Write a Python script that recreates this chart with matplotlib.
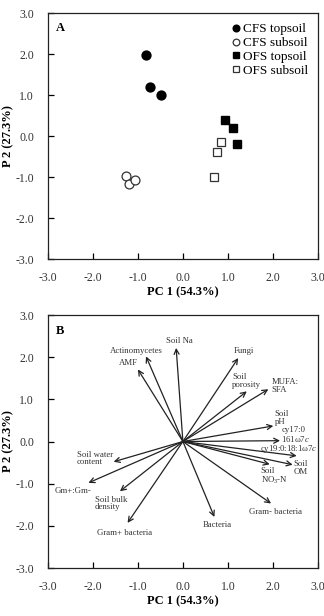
import matplotlib
matplotlib.use("Agg")
import matplotlib.pyplot as plt

plt.rcParams['font.family'] = ['Liberation Serif', 'DejaVu Serif']
plt.rcParams['mathtext.fontset'] = 'custom'
plt.rcParams['mathtext.rm'] = 'Liberation Serif'
plt.rcParams['mathtext.it'] = 'Liberation Serif:italic'

# Panel A: PCA scores
cfs_top_x = [-0.83, -0.73, -0.49]
cfs_top_y = [1.97, 1.21, 1.00]
cfs_sub_x = [-1.27, -1.19, -1.06]
cfs_sub_y = [-0.98, -1.16, -1.07]
ofs_top_x = [0.94, 1.11, 1.21]
ofs_top_y = [0.39, 0.19, -0.18]
ofs_sub_x = [0.84, 0.75, 0.70]
ofs_sub_y = [-0.15, -0.39, -0.99]

# Panel B: loading vectors (tip x, tip y)
var_names = ["Soil Na", "Actinomycetes", "AMF", "Fungi", "Soil porosity", "MUFA:SFA",
             "Soil pH", "cy17:0 161w7c", "cy19:0:18:1w7c", "Soil OM", "Soil NO3-N",
             "Gram- bacteria", "Bacteria", "Gram+ bacteria", "Soil bulk density",
             "Gm+:Gm-", "Soil water content"]
load_x = [-0.15, -0.82, -1.00, 1.23, 1.42, 1.90, 2.01, 2.16, 2.53, 2.44, 1.93,
          1.96, 0.70, -1.23, -1.40, -2.10, -1.54]
load_y = [2.22, 2.02, 1.71, 1.98, 1.19, 1.24, 0.37, 0.02, -0.34, -0.55, -0.54,
          -1.47, -1.79, -1.93, -1.18, -0.98, -0.48]
# label text, label x, label y, horizontal alignment
label_text = ["Soil Na", "Actinomycetes", "AMF", "Fungi", "Soil\nporosity", "MUFA:\nSFA",
              "Soil\npH", "cy17:0\n161ω7$\\it{c}$", "cy19:0:18:1ω7$\\it{c}$", "Soil\nOM",
              "Soil\nNO$_3$-N", "Gram- bacteria", "Bacteria", "Gram+ bacteria",
              "Soil bulk\ndensity", "Gm+:Gm-", "Soil water\ncontent"]
label_x = [-0.07, -1.03, -1.22, 1.36, 1.10, 1.97, 2.04, 2.19, 2.35, 2.62, 1.73,
           2.06, 0.76, -1.30, -1.96, -2.44, -2.36]
label_y = [2.38, 2.15, 1.87, 2.15, 1.43, 1.32, 0.56, 0.16, -0.18, -0.63, -0.83,
           -1.67, -1.98, -2.17, -1.47, -1.17, -0.40]
label_ha = ["center", "center", "center", "center", "left", "left", "left", "left",
            "center", "center", "left", "center", "center", "center", "left", "center", "left"]

ticks = [-3.0, -2.0, -1.0, 0.0, 1.0, 2.0, 3.0]
tick_labels = ["-3.0", "-2.0", "-1.0", "0.0", "1.0", "2.0", "3.0"]

fig = plt.figure(figsize=(3.24, 6.16), dpi=100)
axA = fig.add_axes([0.148, 0.5795, 0.833, 0.399])
axB = fig.add_axes([0.148, 0.0779, 0.833, 0.4107])

for ax in (axA, axB):
    ax.set_xlim(-3, 3)
    ax.set_ylim(-3, 3)
    ax.set_xticks(ticks)
    ax.set_yticks(ticks)
    ax.set_xticklabels(tick_labels)
    ax.set_yticklabels(tick_labels)
    ax.tick_params(direction='in', length=4, width=0.9, labelsize=8.5,
                   labelcolor='#333333', top=False, right=False)
    ax.tick_params(axis='x', pad=9)
    ax.tick_params(axis='y', pad=10)
    for s in ax.spines.values():
        s.set_linewidth(0.9)
        s.set_color('#222222')
    ax.set_xlabel("PC 1 (54.3%)", fontsize=9, fontweight='bold', labelpad=2)
    ax.set_ylabel("P 2 (27.3%)", fontsize=9, fontweight='bold', labelpad=1)

axA.plot(cfs_top_x, cfs_top_y, 'o', color='black', ms=6.4, label='CFS topsoil')
axA.plot(cfs_sub_x, cfs_sub_y, 'o', mfc='white', mec='#333333', mew=0.9, ms=6.4, label='CFS subsoil')
axA.plot(ofs_top_x, ofs_top_y, 's', color='black', ms=5.2, label='OFS topsoil')
axA.plot(ofs_sub_x, ofs_sub_y, 's', mfc='white', mec='#333333', mew=0.9, ms=5.2, label='OFS subsoil')
axA.legend(loc='upper right', frameon=False, fontsize=9.5, handletextpad=0.15,
           handlelength=0.7, labelspacing=0.12, borderaxespad=0.45, borderpad=0.3,
           markerscale=0.75)
axA.text(-2.73, 2.63, "A", fontsize=9, fontweight='bold', ha='center', va='center')

axB.text(-2.73, 2.63, "B", fontsize=9, fontweight='bold', ha='center', va='center')
for i in range(len(var_names)):
    axB.annotate("", xy=(load_x[i], load_y[i]), xytext=(0, 0),
                 arrowprops=dict(arrowstyle='->', color='#222222', lw=0.9,
                                 shrinkA=0, shrinkB=0, mutation_scale=9))
    axB.text(label_x[i], label_y[i], label_text[i], fontsize=6.3, color='#333333',
             ha=label_ha[i], va='center', linespacing=0.95)

fig.savefig("out.png", dpi=100)
